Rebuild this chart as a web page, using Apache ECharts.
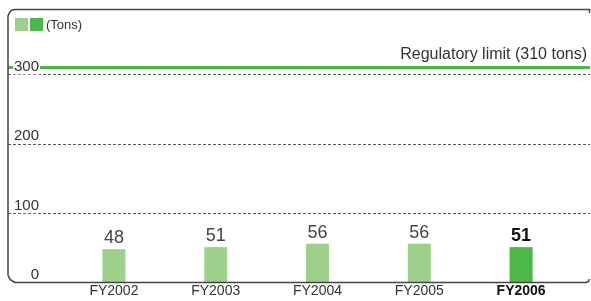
<!DOCTYPE html>
<html>
<head>
<meta charset="utf-8">
<script src="https://cdn.jsdelivr.net/npm/echarts@6/dist/echarts.min.js"></script>
<style>
  html, body { margin: 0; padding: 0; background: #fff; }
  #chart { width: 591px; height: 301px; }
</style>
</head>
<body>
<div id="chart"></div>
<script>
var years = ['FY2002', 'FY2003', 'FY2004', 'FY2005', 'FY2006']
var emissions = [48, 51, 56, 56, 51]
var limitValue = 310
var limitText = 'Regulatory limit (310 tons)'
var unitText = '(Tons)'

var light = '#9dd18b'
var dark = '#4cb848'
var font = '"Liberation Sans", Arial, sans-serif'

var chart = echarts.init(document.getElementById('chart'))

chart.setOption({
  animation: false,
  textStyle: { fontFamily: font },
  grid: [
    { left: 8, right: 1, top: 5, bottom: 18.5 },
    { left: 63, right: 19, top: 5, bottom: 18.5 }
  ],
  xAxis: [
    { gridIndex: 0, type: 'value', min: 0, max: 1, show: false },
    {
      gridIndex: 1,
      type: 'category',
      data: years,
      axisLine: { show: false },
      axisTick: { show: false },
      axisLabel: {
        margin: 2,
        fontSize: 14,
        color: '#333',
        fontFamily: font,
        formatter: function (v, i) {
          return i === years.length - 1 ? '{b|' + v + '}' : v
        },
        rich: { b: { fontWeight: 'bold', fontSize: 14, color: '#111', fontFamily: font } }
      }
    }
  ],
  yAxis: [
    {
      gridIndex: 0,
      type: 'value',
      min: 0,
      max: 400,
      interval: 100,
      z: 5,
      axisLine: { show: false },
      axisTick: { show: false },
      axisLabel: {
        showMaxLabel: false,
        margin: -32,
        align: 'right',
        verticalAlign: 'bottom',
        padding: [0, 1, 0, 1],
        fontSize: 15,
        color: '#333',
        fontFamily: font,
        backgroundColor: '#fff'
      },
      splitLine: {
        show: true,
        showMinLine: false,
        showMaxLine: false,
        lineStyle: { color: '#555', type: [3, 2], width: 1 }
      }
    },
    { gridIndex: 1, type: 'value', min: 0, max: 400, show: false }
  ],
  series: [
    {
      type: 'line',
      xAxisIndex: 0,
      yAxisIndex: 0,
      data: [],
      markLine: {
        silent: true,
        symbol: 'none',
        lineStyle: { color: dark, width: 3, type: 'solid' },
        label: {
          position: 'insideEndTop',
          formatter: limitText,
          fontSize: 16,
          color: '#333',
          distance: [3, 5],
          fontFamily: font
        },
        data: [{ yAxis: limitValue }]
      }
    },
    {
      type: 'bar',
      xAxisIndex: 1,
      yAxisIndex: 1,
      barWidth: 23,
      data: emissions.map(function (v, i) {
        var last = i === emissions.length - 1
        return {
          value: v,
          itemStyle: { color: last ? dark : light },
          label: last ? { fontWeight: 'bold', color: '#111' } : {}
        }
      }),
      label: {
        show: true,
        position: 'top',
        distance: 2,
        fontSize: 18,
        color: '#444',
        fontFamily: font
      }
    }
  ],
  graphic: [
    {
      type: 'polyline',
      shape: {
        points: [
          [589.5, 13], [589.5, 9.5], [15, 9.5], [12.5, 10], [10.4, 11.4], [9, 13.5], [8, 16],
          [8, 275], [9, 277.5], [10.4, 279.6], [12.5, 281], [15, 282.5],
          [586, 282.5], [588.5, 281.5], [589.5, 279]
        ]
      },
      style: { fill: null, stroke: '#444', lineWidth: 1.5 },
      z: 10
    },
    { type: 'rect', shape: { x: 15, y: 18, width: 13, height: 13 }, style: { fill: light } },
    { type: 'rect', shape: { x: 30, y: 18, width: 13, height: 13 }, style: { fill: dark } },
    {
      type: 'text',
      x: 46,
      y: 25,
      style: { text: unitText, fontSize: 13, fill: '#333', verticalAlign: 'middle', fontFamily: font }
    }
  ]
})
</script>
</body>
</html>
